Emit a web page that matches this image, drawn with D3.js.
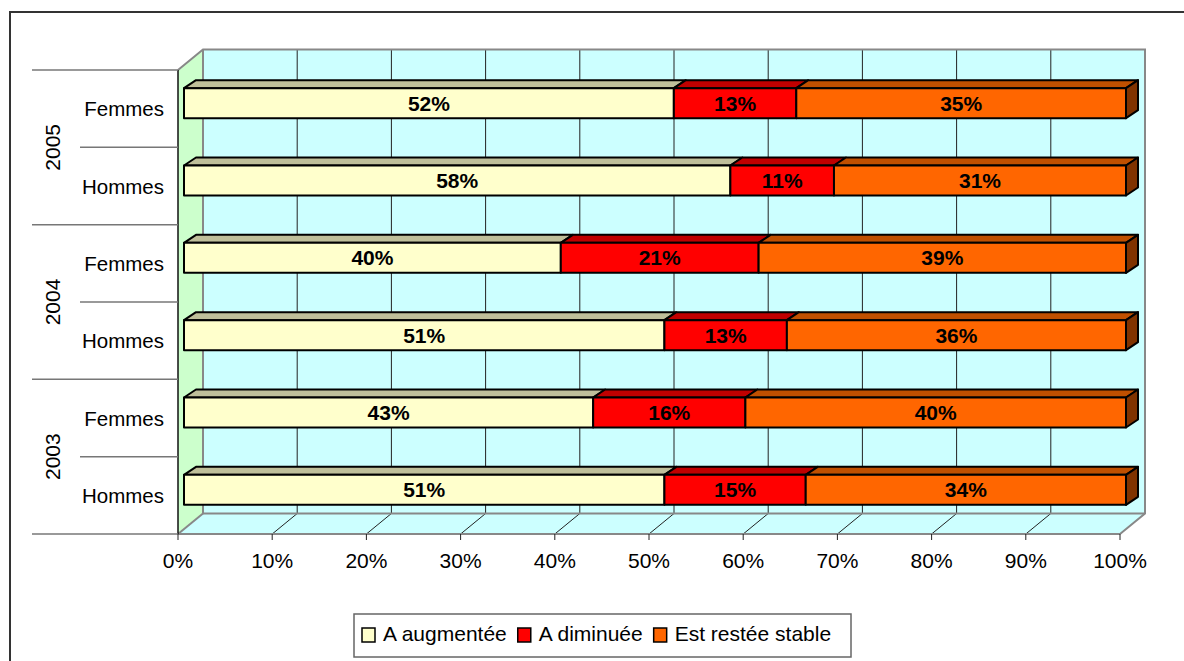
<!DOCTYPE html>
<html>
<head>
<meta charset="utf-8">
<script src="https://cdn.jsdelivr.net/npm/d3@7"></script>
<style>
  html, body { margin: 0; padding: 0; background: #fff; }
  svg { display: block; font-family: "Liberation Sans", Arial, sans-serif; }
</style>
</head>
<body>
<svg id="chart" width="1184" height="661"></svg>
<script>
// Rows from top to bottom: year / sex
const rowYear  = ["2005", "2005", "2004", "2004", "2003", "2003"];
const rowGroup = ["Femmes", "Hommes", "Femmes", "Hommes", "Femmes", "Hommes"];
const years = ["2005", "2004", "2003"];

// Share of answers (%) for each row
const augmentee = [52, 58, 40, 51, 43, 51];
const diminuee  = [13, 11, 21, 13, 16, 15];
const stable    = [35, 31, 39, 36, 40, 34];

const seriesNames = ["A augmentée", "A diminuée", "Est restée stable"];
const tickValues = [0, 10, 20, 30, 40, 50, 60, 70, 80, 90, 100];

const faceColors = ["#FFFFCC", "#FF0000", "#FF6600"];
const topColors  = ["#BFBF9A", "#C00000", "#C05000"];
const sideColors = ["#BFBF9A", "#990000", "#803300"];

const svg = d3.select("#chart");

// Front plane of the plot, and the depth offset of the back wall
const plotLeft = 178, plotRight = 1120, plotTop = 70, plotBottom = 534;
const depth = { dx: 25, dy: -20.5 };
// Bars sit partway into the depth
const barShift = { dx: 6, dy: -5.5 };
const barDepth = { dx: 12, dy: -8 };
const barHeight = 30;

const x = d3.scaleLinear().domain([0, 100]).range([plotLeft, plotRight]);
const y = d3.scaleBand().domain(d3.range(rowYear.length)).range([plotTop, plotBottom]);

// Outer frame
svg.append("rect")
  .attr("x", 10).attr("y", 12).attr("width", 1200).attr("height", 700)
  .attr("fill", "none").attr("stroke", "#333").attr("stroke-width", 2);

const bx0 = plotLeft + depth.dx, bx1 = plotRight + depth.dx;
const by0 = plotTop + depth.dy, by1 = plotBottom + depth.dy;

// Back wall
svg.append("rect")
  .attr("x", bx0).attr("y", by0).attr("width", bx1 - bx0).attr("height", by1 - by0)
  .attr("fill", "#CCFFFF");

// Floor
svg.append("polygon")
  .attr("points", [[plotLeft, plotBottom], [plotRight, plotBottom], [bx1, by1], [bx0, by1]].join(" "))
  .attr("fill", "#CCFFFF");

// Side wall
svg.append("polygon")
  .attr("points", [[plotLeft, plotTop], [bx0, by0], [bx0, by1], [plotLeft, plotBottom]].join(" "))
  .attr("fill", "#CCFFCC");

// Gridlines: vertical on the back wall, diagonal on the floor
const grid = svg.append("g");
tickValues.slice(1, -1).forEach(t => {
  const fx = x(t);
  grid.append("line")
    .attr("x1", fx + depth.dx).attr("y1", by0).attr("x2", fx + depth.dx).attr("y2", by1)
    .attr("stroke", "#222").attr("stroke-width", 1);
  grid.append("line")
    .attr("x1", fx).attr("y1", plotBottom).attr("x2", fx + depth.dx).attr("y2", by1)
    .attr("stroke", "#222").attr("stroke-width", 1);
});

// Wall and floor outlines
const edge = svg.append("g").attr("fill", "none").attr("stroke", "#888").attr("stroke-width", 2);
edge.append("polyline")
  .attr("points", [[plotLeft, plotTop], [bx0, by0], [bx1, by0], [bx1, by1], [plotRight, plotBottom]].join(" "));
edge.append("polyline")
  .attr("points", [[bx0, by0], [bx0, by1], [bx1, by1]].join(" "));
edge.append("line")
  .attr("x1", plotLeft).attr("y1", plotBottom).attr("x2", bx0).attr("y2", by1);
edge.append("line")
  .attr("x1", plotLeft).attr("y1", plotBottom).attr("x2", plotRight).attr("y2", plotBottom);

// Category axis line and group separators
svg.append("line")
  .attr("x1", plotLeft).attr("y1", plotTop).attr("x2", plotLeft).attr("y2", plotBottom)
  .attr("stroke", "#111").attr("stroke-width", 1.5);

const sepY = d3.range(rowYear.length + 1).map(i => i < rowYear.length ? y(i) : plotBottom);
sepY.forEach((yy, i) => {
  svg.append("line")
    .attr("x1", i % 2 === 0 ? 32 : 80).attr("y1", yy).attr("x2", plotLeft).attr("y2", yy)
    .attr("stroke", "#777").attr("stroke-width", 1.5);
});

// Category labels
svg.append("g").selectAll("text").data(rowGroup).join("text")
  .attr("x", 164)
  .attr("y", (d, i) => y(i) + y.bandwidth() / 2 + 7.5)
  .attr("text-anchor", "end")
  .attr("font-size", 20.5)
  .attr("fill", "#000")
  .text(d => d);

// Year labels, rotated, centred over their two rows
svg.append("g").selectAll("text").data(years).join("text")
  .attr("transform", (d, i) => `translate(60,${y(i * 2) + y.bandwidth()}) rotate(-90)`)
  .attr("text-anchor", "middle")
  .attr("font-size", 21)
  .attr("fill", "#000")
  .text(d => d);

// X axis ticks and labels
const xAxis = svg.append("g");
tickValues.forEach(t => {
  xAxis.append("line")
    .attr("x1", x(t)).attr("y1", plotBottom).attr("x2", x(t)).attr("y2", plotBottom + 6)
    .attr("stroke", "#222").attr("stroke-width", 1);
  xAxis.append("text")
    .attr("x", x(t)).attr("y", 568)
    .attr("text-anchor", "middle")
    .attr("font-size", 21)
    .attr("fill", "#000")
    .text(t + "%");
});

// 100% stacked bars
const rows = rowYear.map((yr, i) => ({ i, a: augmentee[i], d: diminuee[i], s: stable[i] }));
const keys = ["a", "d", "s"];
const labelsOf = { a: augmentee, d: diminuee, s: stable };
const stack = d3.stack().keys(keys).offset(d3.stackOffsetExpand);
const layers = stack(rows);

const bars = svg.append("g");
rows.forEach((r, i) => {
  const cy = y(i) + y.bandwidth() / 2 + barShift.dy;
  const y0 = cy - barHeight / 2, y1 = cy + barHeight / 2;
  layers.forEach((layer, k) => {
    const seg = layer[i];
    const xa = x(seg[0] * 100) + barShift.dx;
    const xb = x(seg[1] * 100) + barShift.dx;
    const g = bars.append("g").attr("stroke", "#000").attr("stroke-width", 2).attr("stroke-linejoin", "round");
    // top face
    g.append("polygon")
      .attr("points", [[xa, y0], [xa + barDepth.dx, y0 + barDepth.dy], [xb + barDepth.dx, y0 + barDepth.dy], [xb, y0]].join(" "))
      .attr("fill", topColors[k]);
    // side face (visible only at the bar end)
    if (k === layers.length - 1) {
      g.append("polygon")
        .attr("points", [[xb, y0], [xb + barDepth.dx, y0 + barDepth.dy], [xb + barDepth.dx, y1 + barDepth.dy], [xb, y1]].join(" "))
        .attr("fill", sideColors[k]);
    }
    // front face
    g.append("rect")
      .attr("x", xa).attr("y", y0).attr("width", xb - xa).attr("height", barHeight)
      .attr("fill", faceColors[k]);
    bars.append("text")
      .attr("x", (xa + xb) / 2).attr("y", cy + 7.5)
      .attr("text-anchor", "middle")
      .attr("font-size", 21)
      .attr("font-weight", "bold")
      .attr("fill", "#000")
      .text(labelsOf[keys[k]][i] + "%");
  });
});

// Legend
const legend = svg.append("g");
legend.append("rect")
  .attr("x", 354).attr("y", 614).attr("width", 497).attr("height", 43)
  .attr("fill", "#fff").attr("stroke", "#666").attr("stroke-width", 1.5);
let lx = 362;
seriesNames.forEach((name, k) => {
  legend.append("rect")
    .attr("x", lx).attr("y", 628).attr("width", 13).attr("height", 14)
    .attr("fill", faceColors[k]).attr("stroke", "#000").attr("stroke-width", 1.5);
  const t = legend.append("text")
    .attr("x", lx + 21).attr("y", 641)
    .attr("font-size", 21)
    .attr("fill", "#000")
    .text(name);
  lx += 21 + t.node().getComputedTextLength() + 11;
});
</script>
</body>
</html>
